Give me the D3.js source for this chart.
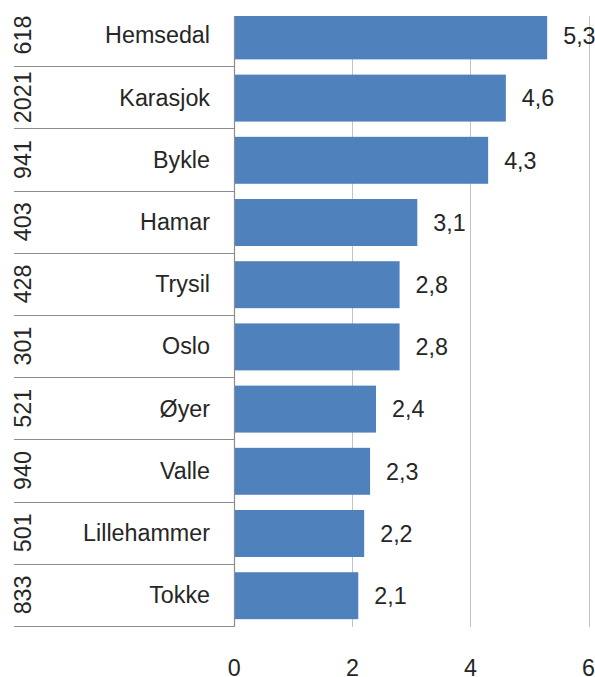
<!DOCTYPE html>
<html>
<head>
<meta charset="utf-8">
<script src="https://cdn.jsdelivr.net/npm/d3@7/dist/d3.min.js"></script>
<style>
  html, body { margin: 0; padding: 0; background: #fff; }
  svg { display: block; }
  text { font-family: "Liberation Sans", Arial, sans-serif; fill: #262626; }
</style>
</head>
<body>
<script>
// Municipalities, their municipality numbers and values
const municipalities = ["Hemsedal", "Karasjok", "Bykle", "Hamar", "Trysil", "Oslo", "Øyer", "Valle", "Lillehammer", "Tokke"];
const codes = ["618", "2021", "941", "403", "428", "301", "521", "940", "501", "833"];
const values = [5.3, 4.6, 4.3, 3.1, 2.8, 2.8, 2.4, 2.3, 2.2, 2.1];
const xTicks = [0, 2, 4, 6];

const W = 595, H = 677;
const plot = { left: 234.3, right: 588.5, top: 4, bottom: 626, clipTop: 16 };
const tableLeft = 14;
const fontSize = 23.3;

const svg = d3.select("body").append("svg")
  .attr("width", W).attr("height", H);

const x = d3.scaleLinear().domain([0, 6]).range([plot.left, plot.right]);
const y = d3.scaleBand().domain(municipalities).range([plot.top, plot.bottom]);
const barH = y.step() * 0.755;

svg.append("defs").append("clipPath").attr("id", "plotClip")
  .append("rect")
  .attr("x", 0).attr("y", plot.clipTop)
  .attr("width", W).attr("height", plot.bottom + 2 - plot.clipTop);

const plotG = svg.append("g").attr("clip-path", "url(#plotClip)");

// vertical gridlines
plotG.selectAll("line.grid")
  .data(xTicks.filter(d => d > 0))
  .join("line")
  .attr("class", "grid")
  .attr("x1", d => Math.round(x(d)) + 0.5).attr("x2", d => Math.round(x(d)) + 0.5)
  .attr("y1", plot.top).attr("y2", plot.bottom + 1)
  .attr("stroke", "#c4c4c4").attr("stroke-width", 1);

// bars
plotG.selectAll("rect.bar")
  .data(municipalities)
  .join("rect")
  .attr("class", "bar")
  .attr("x", x(0))
  .attr("y", d => y(d) + (y.step() - barH) / 2 + 0.8)
  .attr("width", (d, i) => x(values[i]) - x(0))
  .attr("height", barH)
  .attr("fill", "#4f81bd");

// category axis line
plotG.append("line")
  .attr("x1", Math.round(x(0)) + 0.5).attr("x2", Math.round(x(0)) + 0.5)
  .attr("y1", plot.top).attr("y2", plot.bottom + 1)
  .attr("stroke", "#8c8c8c").attr("stroke-width", 1.2);

// table separators on the category side
const seps = municipalities.slice(1).map(d => y(d)).concat([plot.bottom]);
svg.selectAll("line.sep")
  .data(seps)
  .join("line")
  .attr("class", "sep")
  .attr("x1", tableLeft).attr("x2", x(0))
  .attr("y1", d => Math.round(d) + 0.5).attr("y2", d => Math.round(d) + 0.5)
  .attr("stroke", "#8c8c8c").attr("stroke-width", 1.2);

// municipality names
svg.selectAll("text.cat")
  .data(municipalities)
  .join("text")
  .attr("class", "cat")
  .attr("x", 210)
  .attr("y", d => y(d) + y.step() / 2)
  .attr("dy", "0.36em")
  .attr("text-anchor", "end")
  .attr("font-size", fontSize)
  .text(d => d);

// municipality numbers, rotated
svg.selectAll("text.code")
  .data(codes)
  .join("text")
  .attr("class", "code")
  .attr("transform", (d, i) => `translate(${tableLeft + 8.5},${y(municipalities[i]) + y.step() / 2}) rotate(-90)`)
  .attr("dy", "0.36em")
  .attr("text-anchor", "middle")
  .attr("font-size", fontSize)
  .text(d => d);

// value labels
const fmt = v => d3.format(".1f")(v).replace(".", ",");
svg.selectAll("text.val")
  .data(municipalities)
  .join("text")
  .attr("class", "val")
  .attr("x", (d, i) => x(values[i]) + 16)
  .attr("y", d => y(d) + y.step() / 2 + 0.8)
  .attr("dy", "0.36em")
  .attr("font-size", fontSize)
  .text((d, i) => fmt(values[i]));

// value axis tick labels
svg.selectAll("text.tick")
  .data(xTicks)
  .join("text")
  .attr("class", "tick")
  .attr("x", d => x(d))
  .attr("y", 676)
  .attr("text-anchor", "middle")
  .attr("font-size", fontSize)
  .text(d => d);
</script>
</body>
</html>
